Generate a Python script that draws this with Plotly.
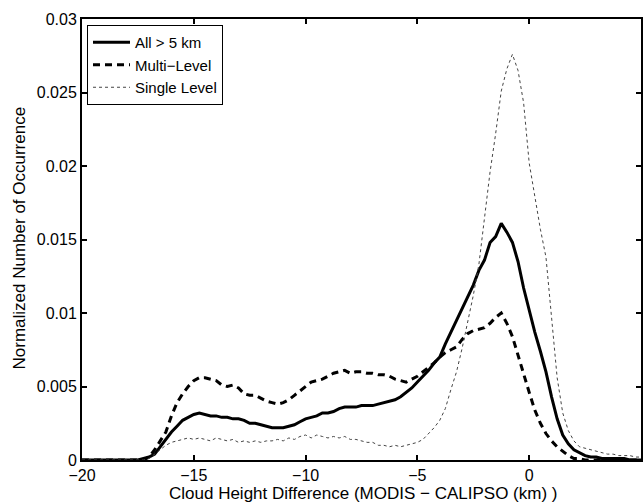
import plotly.graph_objects as go

x_km = [-20.0 + 0.25 * i for i in range(101)]

all_gt5 = [
    0, 0, 0, 0, 0, 0, 0, 0, 0, 0, 0,            # -20 .. -17.5
    0.0001, 0.0002, 0.0004, 0.0009, 0.0014, 0.0019, 0.0023, 0.0027, 0.0029,  # -17.25 .. -15.25
    0.0031, 0.0032, 0.0031, 0.0030, 0.0030, 0.0029, 0.0029, 0.0028, 0.0028,  # -15 .. -13
    0.0027, 0.0025, 0.0025, 0.0024, 0.0023, 0.0022, 0.0022, 0.0022,          # -12.75 .. -11
    0.0023, 0.0024, 0.0026, 0.0028, 0.0029, 0.0030, 0.0032, 0.0032,          # -10.75 .. -9
    0.0033, 0.0035, 0.0036, 0.0036, 0.0036, 0.0037, 0.0037, 0.0037,          # -8.75 .. -7
    0.0038, 0.0039, 0.0040, 0.0041, 0.0043, 0.0046, 0.0049, 0.0053,          # -6.75 .. -5
    0.0057, 0.0061, 0.0066, 0.0070, 0.0079, 0.0087, 0.0094, 0.0102,          # -4.75 .. -3
    0.0111, 0.0119, 0.0129, 0.0136, 0.0148, 0.0152, 0.0161, 0.0155,          # -2.75 .. -1
    0.0148, 0.0135, 0.0117, 0.0101, 0.0087, 0.0074, 0.0060, 0.0043,          # -0.75 .. 1
    0.0028, 0.0017, 0.0011, 0.0007, 0.0005, 0.0003, 0.0002, 0.0002,          # 1.25 .. 3
    0.0001, 0.0001, 0.0001, 0.0001, 0.0001, 0, 0, 0,                          # 3.25 .. 5
]

multi_level = [
    0, 0, 0, 0, 0, 0, 0, 0, 0, 0, 0,
    0.0000, 0.0002, 0.0007, 0.0013, 0.0019, 0.0030, 0.0039, 0.0045, 0.0050,
    0.0054, 0.0056, 0.0056, 0.0055, 0.0054, 0.0051, 0.0050, 0.0051, 0.0049,
    0.0045, 0.0044, 0.0044, 0.0042, 0.0040, 0.0039, 0.0038, 0.0039,
    0.0041, 0.0044, 0.0047, 0.0050, 0.0053, 0.0054, 0.0055, 0.0057,
    0.0059, 0.0060, 0.0061, 0.0059, 0.0060, 0.0060, 0.0059, 0.0059,
    0.0058, 0.0058, 0.0057, 0.0055, 0.0054, 0.0053, 0.0055, 0.0057,
    0.0060, 0.0063, 0.0066, 0.0070, 0.0073, 0.0075, 0.0077, 0.0082,
    0.0086, 0.0088, 0.0089, 0.0090, 0.0093, 0.0097, 0.0100, 0.0093,
    0.0084, 0.0071, 0.0058, 0.0046, 0.0034, 0.0025, 0.0018, 0.0013,
    0.0009, 0.0006, 0.0003, 0.0001, 0.0001, 0, 0, 0,
    0, 0, 0, 0, 0, 0, 0, 0,
]

single_level = [
    0, 0, 0, 0, 0, 0, 0, 0, 0, 0, 0,
    0.0000, 0.0001, 0.0004, 0.0007, 0.0010, 0.0012, 0.0013, 0.0014, 0.0015,
    0.0014, 0.0015, 0.0014, 0.0013, 0.0015, 0.0014, 0.0013, 0.0014, 0.0012,
    0.0013, 0.0012, 0.0013, 0.0012, 0.0013, 0.0013, 0.0014, 0.0013,
    0.0015, 0.0014, 0.0016, 0.0017, 0.0015, 0.0017, 0.0016, 0.0015,
    0.0016, 0.0015, 0.0016, 0.0014, 0.0014, 0.0013, 0.0012, 0.0012,
    0.0010, 0.0010, 0.0009, 0.0010, 0.0009, 0.0010, 0.0011, 0.0012,
    0.0014, 0.0018, 0.0022, 0.0027, 0.0035, 0.0048, 0.0060, 0.0076,
    0.0093, 0.0112, 0.0133, 0.0165, 0.0196, 0.0222, 0.0251, 0.0266,
    0.0276, 0.0265, 0.0243, 0.0202, 0.0179, 0.0157, 0.0138, 0.0095,
    0.0056, 0.0032, 0.0020, 0.0013, 0.0009, 0.0008, 0.0007, 0.0006,
    0.0005, 0.0004, 0.0004, 0.0003, 0.0003, 0.0003, 0.0002, 0.0002,
]

x_ticks = [-20, -15, -10, -5, 0, 5]
x_tick_text = ["\u221220", "\u221215", "\u221210", "\u22125", "0", "5"]
y_ticks = [0, 0.005, 0.01, 0.015, 0.02, 0.025, 0.03]
y_tick_text = ["0", "0.005", "0.01", "0.015", "0.02", "0.025", "0.03"]

x_title = "Cloud Height Difference (MODIS \u2212 CALIPSO (km) )"
y_title = "Normalized Number of Occurrence"

FONT = "Liberation Sans, Arial, Helvetica, sans-serif"
W, H = 644, 502
ML, MR, MT, MB = 82, 3, 19, 42
PW, PH = W - ML - MR, H - MT - MB

fig = go.Figure()
fig.add_trace(go.Scatter(x=x_km, y=all_gt5, mode="lines", name="All > 5 km",
                         line=dict(color="black", width=3)))
fig.add_trace(go.Scatter(x=x_km, y=multi_level, mode="lines", name="Multi\u2212Level",
                         line=dict(color="black", width=3, dash="7px,5px")))
fig.add_trace(go.Scatter(x=x_km, y=single_level, mode="lines", name="Single Level",
                         line=dict(color="#444444", width=1, dash="dot")))

axis_common = dict(
    showline=True, linecolor="black", linewidth=2, mirror="ticks",
    ticks="inside", ticklen=5, tickcolor="black", tickwidth=1.5,
    showgrid=False, zeroline=False, automargin=False,
    tickfont=dict(family=FONT, size=16, color="black"),
)

fig.update_layout(
    width=W, height=H,
    margin=dict(l=ML, r=MR, t=MT, b=MB, autoexpand=False),
    paper_bgcolor="white", plot_bgcolor="white",
    font=dict(family=FONT, size=16, color="black"),
    xaxis=dict(range=[-20, 5], tickvals=x_ticks, ticktext=x_tick_text, ticklabelstandoff=0,
               **axis_common),
    yaxis=dict(range=[0, 0.03], tickvals=y_ticks, ticktext=y_tick_text,
               **axis_common),
    legend=dict(x=5 / PW, y=1 - 6 / PH, xanchor="left", yanchor="top",
                bgcolor="white", bordercolor="black", borderwidth=1,
                font=dict(family=FONT, size=15, color="black"),
                itemwidth=37, tracegroupgap=0),
    showlegend=True,
    annotations=[
        dict(text=x_title, xref="paper", yref="paper",
             x=(363 - ML) / PW, y=-(493 - (MT + PH)) / PH,
             xanchor="center", yanchor="middle", showarrow=False,
             font=dict(family=FONT, size=17, color="black")),
        dict(text=y_title, xref="paper", yref="paper", textangle=-90,
             x=(18.5 - ML) / PW, y=(MT + PH - 238) / PH,
             xanchor="center", yanchor="middle", showarrow=False,
             font=dict(family=FONT, size=17, color="black")),
    ],
)

fig.write_html("out.html", config={"displayModeBar": False},
               post_script="document.body.style.margin='0';document.body.style.overflow='hidden';")
